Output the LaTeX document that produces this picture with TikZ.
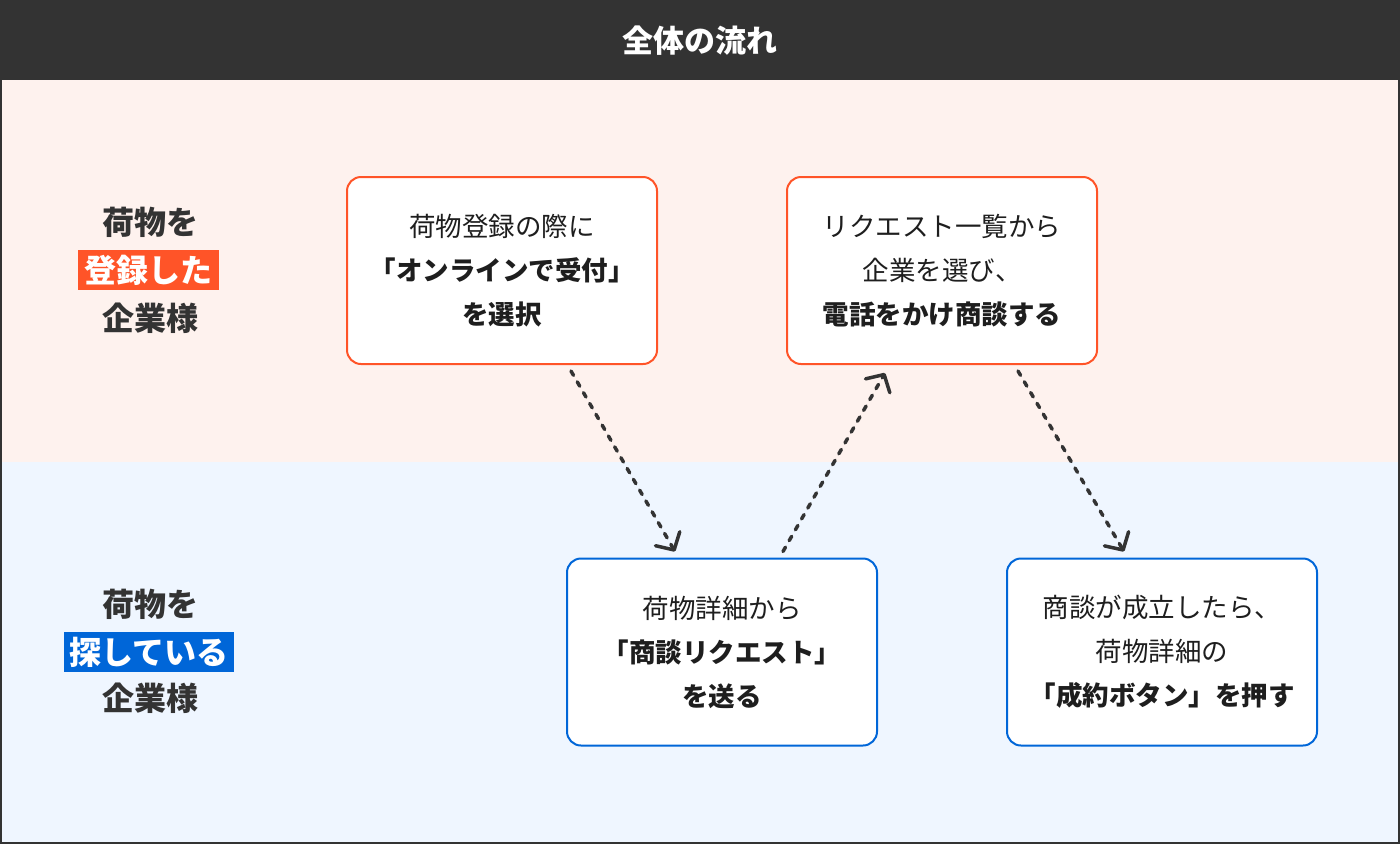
\documentclass[tikz,border=0pt]{standalone}
\usepackage{fontspec}
\setmainfont{Noto Sans CJK JP}
\usetikzlibrary{arrows.meta,calc}
\definecolor{dark}{HTML}{333333}
\definecolor{orng}{HTML}{FF5428}
\definecolor{blu}{HTML}{0066D8}
\definecolor{pinkbg}{HTML}{FEF2EE}
\definecolor{bluebg}{HTML}{EFF6FF}
\definecolor{txt}{HTML}{1E1E1E}
\begin{document}
\begin{tikzpicture}[x=1pt,y=-1pt,
 stepbox/.style={draw,line width=2pt,rounded corners=14pt,fill=white,minimum width=310pt,minimum height=187pt,align=center,text=txt,font=\fontsize{26.5}{44}\selectfont,inner sep=0pt},
 upper/.style={stepbox,draw=orng},
 lower/.style={stepbox,draw=blu},
 flow/.style={draw=dark,line width=3.5pt,line cap=round,dash pattern=on 5pt off 7.5pt,-{Straight Barb[length=13pt,width=28pt,round]}},
 lbl/.style={text=dark,font=\fontsize{32}{38}\selectfont\bfseries,inner sep=0pt},
 tag/.style={font=\fontsize{32}{38}\selectfont\bfseries,text=white,minimum height=40pt,inner sep=0pt}
]
\useasboundingbox (0,0) rectangle (1400,844);
\fill[pinkbg] (0,80) rectangle (1400,462);
\fill[bluebg] (0,462) rectangle (1400,844);
\fill[dark] (0,0) rectangle (1400,80);
\draw[dark,line width=2pt] (1,1) rectangle (1399,843);
\node[font=\fontsize{31}{36}\selectfont\bfseries,text=white] (title) at (700,41) {全体の流れ};

\node[lbl] (l1) at (150,222) {荷物を};
\node[tag,fill=orng,minimum width=141pt] (t1) at (148.5,270) {登録した};
\node[lbl] (c1) at (150,318) {企業様};

\node[lbl] (l2) at (150,604) {荷物を};
\node[tag,fill=blu,minimum width=170pt] (t2) at (149,652) {探している};
\node[lbl] (c2) at (150,698) {企業様};

\node[upper] (b1) at (502,270.5) {荷物登録の際に\\\textbf{「オンラインで受付」}\\\textbf{を選択}};
\node[upper] (b2) at (942,270.5) {リクエスト一覧から\\企業を選び、\\\textbf{電話をかけ商談する}};
\node[lower] (b3) at (722,652) {荷物詳細から\\\textbf{「商談リクエスト」}\\\textbf{を送る}};
\node[lower] (b4) at (1162,652) {商談が成立したら、\\荷物詳細の\\\textbf{「成約ボタン」を押す}};

\draw[flow] ($(b1.south)+(69,6)$) -- ($(b3.north)+(-47,-6)$);
\draw[flow] ($(b3.north)+(61,-6)$) -- ($(b2.south)+(-57,8)$);
\draw[flow] ($(b2.south)+(76,6)$) -- ($(b4.north)+(-38,-6)$);
\end{tikzpicture}
\end{document}
